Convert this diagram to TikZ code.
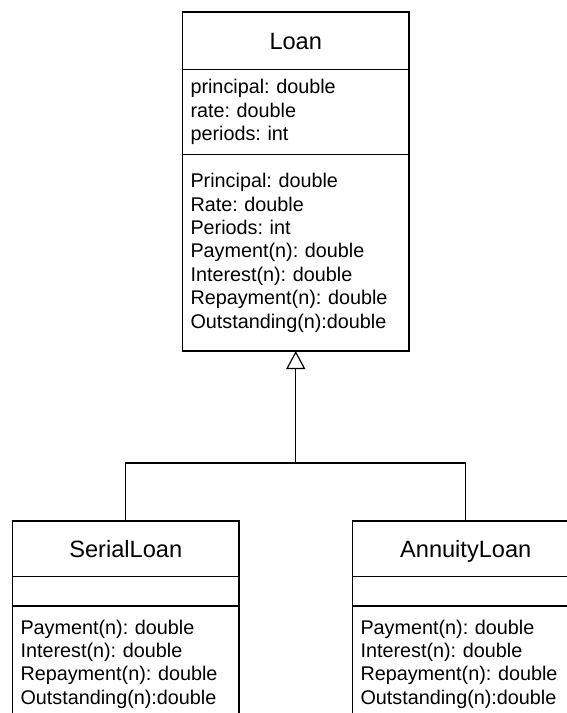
\documentclass[tikz,border=0pt]{standalone}
\usepackage{fontspec}
\setmainfont{Liberation Sans}
\usepackage{tikz}
\usetikzlibrary{arrows.meta,positioning}

\frenchspacing
\newcommand{\umltitle}{\fontsize{23.6}{28}\selectfont}
\newcommand{\umlbody}{\fontsize{19.8}{23.4}\selectfont}

\begin{document}
\begin{tikzpicture}[
  x=1pt, y=-1pt,
  classtitle/.style={rectangle, draw, line width=1.2pt, outer sep=0pt, minimum width=226.5pt, inner sep=0pt, text height=17pt, text depth=0pt, font=\umltitle},
  compart/.style={rectangle, draw, line width=1.2pt, outer sep=0pt, align=left, text width=210.5pt, inner xsep=8pt, inner ysep=0pt, font=\umlbody},
  inherit/.style={-{Triangle[open, length=18pt, width=19pt]}, line width=1.2pt}
]
\useasboundingbox (0,0) rectangle (567,713);
\clip (0,0) rectangle (567,713);

\node[classtitle, minimum height=57.5pt] (loan) at (295.75,40.75) {Loan};
\node[compart, minimum height=85pt, below=0pt of loan] (loanattr) {principal: double\\rate: double\\periods: int};
\node[compart, minimum height=196.5pt, below=0pt of loanattr] (loanmeth) {Principal: double\\Rate: double\\Periods: int\\Payment(n): double\\Interest(n): double\\Repayment(n): double\\Outstanding(n):double};

\node[classtitle, minimum height=55.7pt, below=170pt of loanmeth, xshift=-170pt] (serial) {SerialLoan};
\node[compart, minimum height=29.3pt, below=0pt of serial] (serialattr) {};
\node[compart, minimum height=116pt, below=0pt of serialattr] (serialmeth) {Payment(n): double\\Interest(n): double\\Repayment(n): double\\Outstanding(n):double};

\node[classtitle, minimum height=55.7pt, below=170pt of loanmeth, xshift=170pt] (annuity) {AnnuityLoan};
\node[compart, minimum height=29.3pt, below=0pt of annuity] (annuityattr) {};
\node[compart, minimum height=116pt, below=0pt of annuityattr] (annuitymeth) {Payment(n): double\\Interest(n): double\\Repayment(n): double\\Outstanding(n):double};

\path (loanmeth.south) ++(0,112) coordinate (fork);
\draw[line width=1.2pt] (serial.north) |- (fork) -| (annuity.north);
\draw[inherit] (fork) -- (loanmeth.south);

\end{tikzpicture}
\end{document}
